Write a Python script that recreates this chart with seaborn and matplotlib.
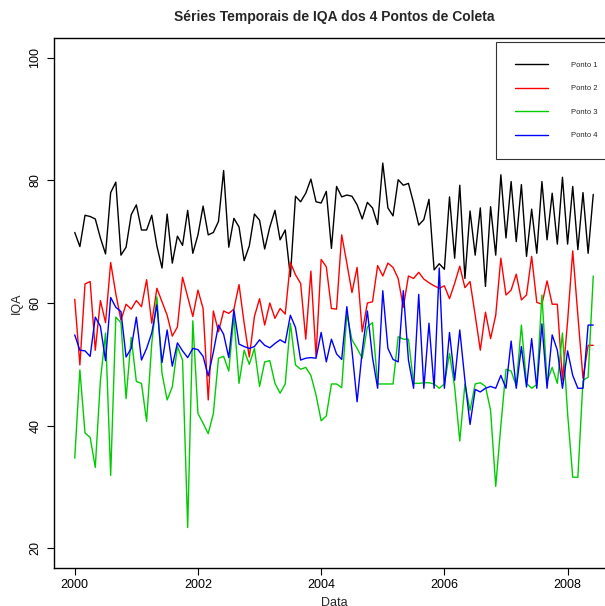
import numpy as np
import pandas as pd
import matplotlib
matplotlib.use("Agg")
import matplotlib.pyplot as plt
import seaborn as sns

# monthly IQA readings, Jan 2000 - Jun 2008
ponto1 = [71.5, 69.2, 74.3, 74.1, 73.7, 70.6, 68.0, 78.0, 79.7, 67.8,
          69.1, 74.4, 76.0, 71.9, 71.9, 74.3, 69.3, 65.7, 74.5, 66.5,
          70.9, 69.4, 75.1, 68.1, 71.1, 75.8, 71.1, 71.5, 73.3, 81.6,
          69.1, 73.8, 72.4, 66.9, 69.3, 74.5, 73.5, 68.8, 72.4, 75.1,
          70.3, 71.9, 64.3, 77.4, 76.5, 77.9, 80.2, 76.5, 76.3, 78.2,
          68.9, 79.0, 77.3, 77.6, 77.4, 76.0, 73.7, 76.4, 75.5, 72.8,
          82.8, 75.5, 74.2, 80.1, 79.2, 79.5, 76.3, 72.7, 73.6, 76.9,
          65.4, 66.4, 65.5, 77.3, 67.3, 79.2, 64.0, 75.0, 67.8, 75.5,
          62.7, 75.7, 67.8, 80.9, 70.6, 79.8, 70.0, 79.3, 67.6, 75.3,
          68.1, 79.8, 70.3, 77.9, 69.6, 80.5, 69.6, 79.0, 68.7, 78.0,
          68.1, 77.7]

ponto2 = [60.6, 49.9, 63.1, 63.5, 52.3, 60.4, 56.8, 66.6, 61.5, 57.2,
          59.8, 59.0, 60.4, 59.4, 63.8, 56.7, 62.4, 60.2, 58.0, 54.6,
          56.1, 64.2, 61.0, 57.8, 62.1, 59.1, 44.2, 58.7, 55.3, 58.7,
          58.3, 59.0, 63.0, 56.7, 51.2, 57.8, 60.7, 56.4, 60.0, 57.5,
          59.1, 58.2, 66.6, 64.6, 63.2, 54.1, 65.2, 51.3, 67.1, 65.9,
          59.1, 59.0, 71.1, 66.5, 61.7, 65.8, 55.3, 60.0, 60.2, 66.1,
          64.4, 66.5, 65.8, 64.0, 59.3, 64.4, 64.0, 65.0, 63.9, 63.3,
          62.8, 62.4, 62.8, 60.7, 63.2, 66.0, 62.5, 63.5, 58.0, 52.3,
          58.5, 54.2, 58.0, 67.3, 61.3, 62.1, 64.7, 60.5, 61.3, 67.6,
          60.1, 59.8, 63.6, 59.8, 59.8, 47.4, 57.0, 68.5, 58.0, 47.7,
          53.1, 53.1]

ponto3 = [34.7, 49.1, 38.8, 38.1, 33.2, 47.4, 55.1, 31.9, 57.7, 56.8,
          44.4, 54.4, 47.2, 46.9, 40.7, 53.4, 61.0, 48.5, 44.2, 46.3,
          52.9, 50.7, 23.4, 57.1, 42.0, 40.4, 38.7, 42.0, 51.0, 51.3,
          48.9, 57.8, 46.9, 52.3, 50.0, 52.6, 46.4, 50.4, 50.6, 46.9,
          45.3, 46.8, 56.7, 49.9, 49.2, 49.5, 48.2, 45.0, 40.8, 41.6,
          46.8, 46.8, 46.2, 58.2, 54.0, 52.6, 51.0, 56.1, 56.8, 46.8,
          46.8, 46.8, 46.8, 54.5, 54.1, 54.1, 46.9, 46.9, 47.0, 47.0,
          46.8, 46.1, 46.8, 51.8, 46.3, 37.5, 46.8, 42.5, 46.8, 47.0,
          46.4, 42.5, 30.1, 40.0, 49.2, 48.9, 46.5, 56.4, 46.9, 46.1,
          46.7, 61.3, 47.2, 49.5, 46.9, 55.1, 42.0, 31.6, 31.6, 47.4,
          47.9, 64.4]

ponto4 = [54.8, 52.3, 52.2, 51.3, 57.7, 56.2, 50.6, 60.9, 59.3, 58.6,
          51.2, 52.6, 57.7, 50.7, 52.6, 55.1, 59.7, 50.3, 55.6, 49.7,
          53.5, 52.2, 51.1, 52.6, 52.4, 51.3, 48.1, 52.0, 56.4, 54.9,
          51.1, 58.9, 53.3, 52.9, 52.6, 52.9, 54.0, 53.1, 52.7, 53.4,
          54.0, 53.5, 58.0, 56.0, 50.7, 51.0, 51.1, 51.0, 55.2, 50.4,
          54.1, 51.7, 50.8, 59.4, 52.3, 43.9, 52.2, 58.7, 51.1, 46.1,
          62.0, 52.6, 50.8, 50.4, 62.0, 50.7, 46.1, 61.4, 46.1, 56.7,
          46.1, 65.7, 46.1, 55.2, 47.4, 55.6, 47.4, 40.2, 45.9, 45.5,
          46.1, 46.4, 46.1, 48.2, 46.1, 53.8, 46.1, 52.9, 46.3, 54.2,
          46.1, 56.6, 46.1, 54.8, 52.3, 46.1, 52.2, 48.2, 46.1, 46.1,
          56.4, 56.4]

labels = ["Ponto 1", "Ponto 2", "Ponto 3", "Ponto 4"]
colors = ["black", "#FF0000", "#00CD00", "#0000FF"]
year_ticks = [2000, 2002, 2004, 2006, 2008]
y_ticks = [20, 40, 60, 80, 100]

# time axis as decimal years (monthly series)
datas = pd.date_range("2000-01-01", periods=len(ponto1), freq="MS")
tempo = datas.year + (datas.month - 1) / 12

sns.set_style("white")
plt.rcParams["font.family"] = ["Liberation Sans", "DejaVu Sans"]

fig = plt.figure(figsize=(6.05, 6.06), dpi=100)
ax = fig.add_axes([54 / 605, 1 - 568 / 606, (614 - 54) / 605, (568 - 38) / 606])

for serie, nome, cor in zip([ponto1, ponto2, ponto3, ponto4], labels, colors):
    sns.lineplot(x=tempo, y=serie, color=cor, linewidth=1.0, label=nome, ax=ax)

# R-like limits (4% padding)
span = tempo[-1] - tempo[0]
ax.set_xlim(tempo[0] - 0.04 * span, tempo[-1] + 0.04 * span)
ax.set_ylim(20 - 0.04 * 80, 100 + 0.04 * 80)
ax.set_xticks(year_ticks)
ax.set_xticklabels([str(a) for a in year_ticks])
ax.set_yticks(y_ticks)
ax.set_yticklabels([str(v) for v in y_ticks], rotation=90, va="center")

for lado in ["left", "bottom", "top", "right"]:
    ax.spines[lado].set_color("black")
    ax.spines[lado].set_linewidth(1.0)
ax.tick_params(axis="both", direction="out", length=5, width=0.8, colors="black",
               labelsize=9, bottom=True, left=True)
ax.tick_params(axis="x", pad=3)
ax.tick_params(axis="y", pad=4)

ax.set_title("Séries Temporais de IQA dos 4 Pontos de Coleta",
             fontsize=10, fontweight="bold", pad=12)
ax.set_xlabel("Data", fontsize=9, labelpad=4)
ax.set_ylabel("IQA", fontsize=9, labelpad=5)

leg = ax.legend(loc="upper right", bbox_to_anchor=(1.005, 0.992), fontsize=5.5,
                frameon=True, fancybox=False, edgecolor="black",
                handlelength=4.3, handletextpad=3.0, labelspacing=2.1,
                borderpad=2.55, borderaxespad=0.0)
leg.get_frame().set_linewidth(0.8)
for linha in leg.get_lines():
    linha.set_linewidth(1.0)

fig.savefig("out.png", dpi=100)
